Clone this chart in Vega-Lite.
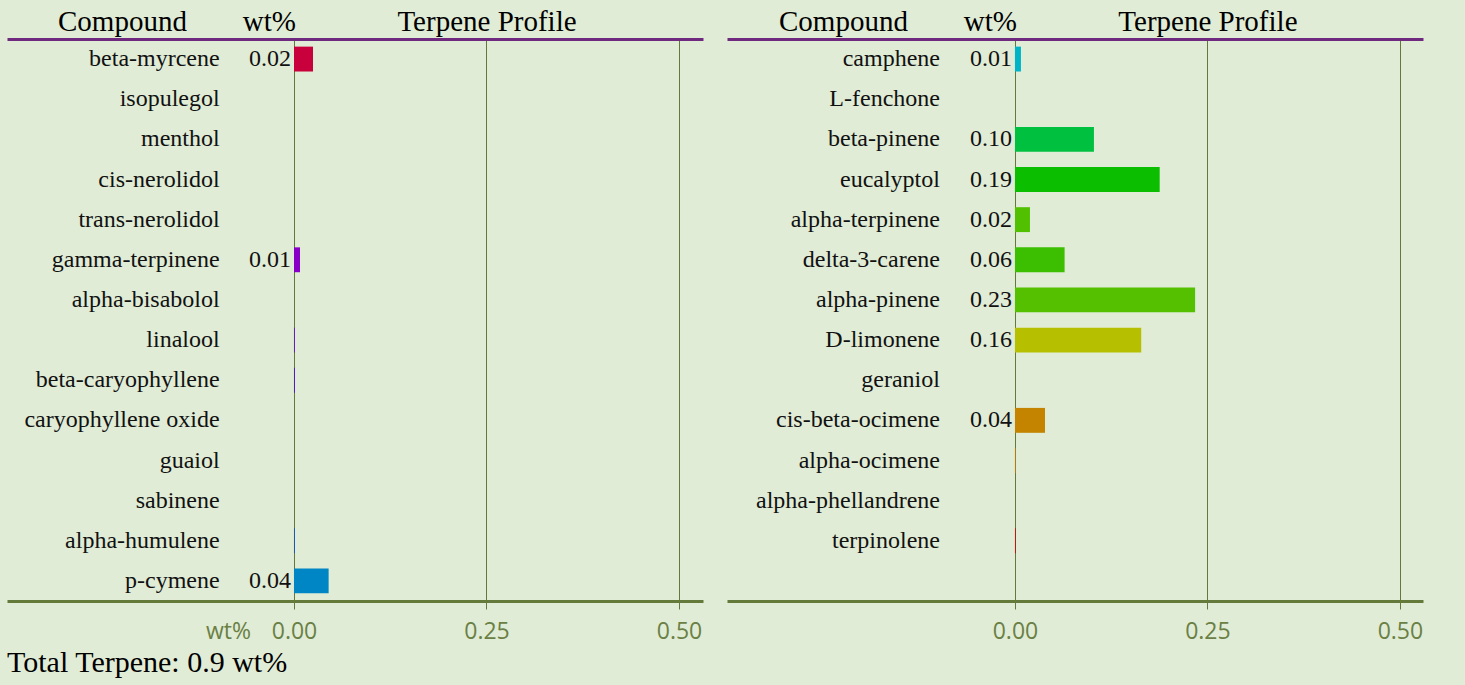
{
  "$schema": "https://vega.github.io/schema/vega-lite/v6.json",
  "background": "#e0ecd6",
  "padding": {"left": 7, "top": 7, "right": 42, "bottom": 8},
  "spacing": 24,
  "title": {"text": "Total Terpene: 0.9 wt%", "orient": "bottom", "anchor": "start", "font": "Liberation Serif", "fontSize": 30, "fontWeight": "normal", "color": "#000000", "offset": 5},
  "config": {
    "view": {"stroke": null},
    "text": {"font": "Liberation Serif"}
  },
  "datasets": {
    "left": [
      {"compound": "beta-myrcene", "wt": 0.0247},
      {"compound": "isopulegol", "wt": 0},
      {"compound": "menthol", "wt": 0},
      {"compound": "cis-nerolidol", "wt": 0},
      {"compound": "trans-nerolidol", "wt": 0},
      {"compound": "gamma-terpinene", "wt": 0.0078},
      {"compound": "alpha-bisabolol", "wt": 0},
      {"compound": "linalool", "wt": 0.001},
      {"compound": "beta-caryophyllene", "wt": 0.001},
      {"compound": "caryophyllene oxide", "wt": 0},
      {"compound": "guaiol", "wt": 0},
      {"compound": "sabinene", "wt": 0},
      {"compound": "alpha-humulene", "wt": 0.001},
      {"compound": "p-cymene", "wt": 0.045}
    ],
    "right": [
      {"compound": "camphene", "wt": 0.0078},
      {"compound": "L-fenchone", "wt": 0},
      {"compound": "beta-pinene", "wt": 0.1026},
      {"compound": "eucalyptol", "wt": 0.188},
      {"compound": "alpha-terpinene", "wt": 0.0195},
      {"compound": "delta-3-carene", "wt": 0.0645},
      {"compound": "alpha-pinene", "wt": 0.234},
      {"compound": "D-limonene", "wt": 0.164},
      {"compound": "geraniol", "wt": 0},
      {"compound": "cis-beta-ocimene", "wt": 0.039},
      {"compound": "alpha-ocimene", "wt": 0.001},
      {"compound": "alpha-phellandrene", "wt": 0},
      {"compound": "terpinolene", "wt": 0.001}
    ]
  },
  "hconcat": [
    {
      "width": 696,
      "height": 562,
      "data": {"name": "left"},
      "resolve": {"axis": {"x": "independent"}},
      "layer": [
        {
          "mark": {"type": "bar", "height": {"band": 0.62}},
          "encoding": {
            "y": {"field": "compound", "type": "nominal", "sort": null, "axis": null,
              "scale": {"domain": ["beta-myrcene","isopulegol","menthol","cis-nerolidol","trans-nerolidol","gamma-terpinene","alpha-bisabolol","linalool","beta-caryophyllene","caryophyllene oxide","guaiol","sabinene","alpha-humulene","p-cymene"], "paddingInner": 0, "paddingOuter": 0}},
            "x": {"field": "wt", "type": "quantitative",
              "scale": {"domain": [-0.3727, 0.5312], "nice": false, "zero": false},
              "axis": {"orient": "bottom", "title": null, "values": [-0.0857, 0, 0.25, 0.5],
                "labelExpr": "datum.value < -0.01 ? 'wt%' : format(datum.value, '.2f')",
                "grid": true, "gridColor": {"condition": {"test": "datum.value < -0.01", "value": "transparent"}, "value": "#637a3a"}, "gridWidth": 1,
                "ticks": true, "tickColor": {"condition": {"test": "datum.value < -0.01", "value": "transparent"}, "value": "#637a3a"}, "tickSize": 8, "tickWidth": 1,
                "domainColor": "#637a3a", "domainWidth": 3,
                "labelFont": "Open Sans", "labelFontSize": 23, "labelColor": "#6a8044", "labelPadding": 11, "labelFlush": false, "labelOverlap": false}},
            "color": {"field": "compound", "type": "nominal", "legend": null,
              "scale": {"domain": ["beta-myrcene","gamma-terpinene","linalool","beta-caryophyllene","alpha-humulene","p-cymene","camphene","beta-pinene","eucalyptol","alpha-terpinene","delta-3-carene","alpha-pinene","D-limonene","cis-beta-ocimene","alpha-ocimene","terpinolene","isopulegol","menthol","cis-nerolidol","trans-nerolidol","alpha-bisabolol","caryophyllene oxide","guaiol","sabinene","L-fenchone","geraniol","alpha-phellandrene"],
                "range": ["#c8003c","#8800c8","#6a00e0","#4800e8","#0050d8","#0086c4","#00b4c8","#00c040","#0cbe00","#50c000","#3cbf00","#55c000","#b6c000","#c48400","#c88000","#c80000","#888888","#888888","#888888","#888888","#888888","#888888","#888888","#888888","#888888","#888888","#888888"]}}
          }
        },
        {
          "mark": {"type": "text", "align": "right", "baseline": "middle", "fontSize": 24, "color": "#111111"},
          "encoding": {
            "y": {"field": "compound", "type": "nominal", "sort": null},
            "x": {"datum": -0.0965,
              "axis": {"orient": "top", "title": null, "values": [-0.2234, -0.0325, 0.25],
                "labelExpr": "datum.value < -0.1 ? 'Compound' : (datum.value < 0 ? 'wt%' : 'Terpene Profile')",
                "grid": false, "ticks": false, "domainColor": "#6f2a80", "domainWidth": 3,
                "labelFont": "Liberation Serif", "labelFontSize": 29, "labelColor": "#000000", "labelBaseline": "alphabetic", "labelPadding": 9, "labelFlush": false, "labelOverlap": false}},
            "text": {"field": "compound"}
          }
        },
        {
          "transform": [{"filter": "datum.wt >= 0.005"}],
          "mark": {"type": "text", "align": "right", "baseline": "middle", "dx": -3, "fontSize": 24, "color": "#111111"},
          "encoding": {
            "y": {"field": "compound", "type": "nominal", "sort": null},
            "x": {"datum": 0, "axis": null},
            "text": {"field": "wt", "type": "quantitative", "format": ".2f"}
          }
        }
      ]
    },
    {
      "width": 696,
      "height": 562,
      "data": {"name": "right"},
      "resolve": {"axis": {"x": "independent"}},
      "layer": [
        {
          "mark": {"type": "bar", "height": {"band": 0.62}},
          "encoding": {
            "y": {"field": "compound", "type": "nominal", "sort": null, "axis": null,
              "scale": {"domain": ["camphene","L-fenchone","beta-pinene","eucalyptol","alpha-terpinene","delta-3-carene","alpha-pinene","D-limonene","geraniol","cis-beta-ocimene","alpha-ocimene","alpha-phellandrene","terpinolene"," "], "paddingInner": 0, "paddingOuter": 0}},
            "x": {"field": "wt", "type": "quantitative",
              "scale": {"domain": [-0.374, 0.530], "nice": false, "zero": false},
              "axis": {"orient": "bottom", "title": null, "values": [0, 0.25, 0.5],
                "labelExpr": "format(datum.value, '.2f')",
                "grid": true, "gridColor": "#637a3a", "gridWidth": 1,
                "ticks": true, "tickColor": "#637a3a", "tickSize": 8, "tickWidth": 1,
                "domainColor": "#637a3a", "domainWidth": 3,
                "labelFont": "Open Sans", "labelFontSize": 23, "labelColor": "#6a8044", "labelPadding": 11, "labelFlush": false, "labelOverlap": false}},
            "color": {"field": "compound", "type": "nominal", "legend": null}
          }
        },
        {
          "mark": {"type": "text", "align": "right", "baseline": "middle", "fontSize": 24, "color": "#111111"},
          "encoding": {
            "y": {"field": "compound", "type": "nominal", "sort": null},
            "x": {"datum": -0.0974,
              "axis": {"orient": "top", "title": null, "values": [-0.2234, -0.0325, 0.25],
                "labelExpr": "datum.value < -0.1 ? 'Compound' : (datum.value < 0 ? 'wt%' : 'Terpene Profile')",
                "grid": false, "ticks": false, "domainColor": "#6f2a80", "domainWidth": 3,
                "labelFont": "Liberation Serif", "labelFontSize": 29, "labelColor": "#000000", "labelBaseline": "alphabetic", "labelPadding": 9, "labelFlush": false, "labelOverlap": false}},
            "text": {"field": "compound"}
          }
        },
        {
          "transform": [{"filter": "datum.wt >= 0.005"}],
          "mark": {"type": "text", "align": "right", "baseline": "middle", "dx": -3, "fontSize": 24, "color": "#111111"},
          "encoding": {
            "y": {"field": "compound", "type": "nominal", "sort": null},
            "x": {"datum": 0, "axis": null},
            "text": {"field": "wt", "type": "quantitative", "format": ".2f"}
          }
        }
      ]
    }
  ]
}
